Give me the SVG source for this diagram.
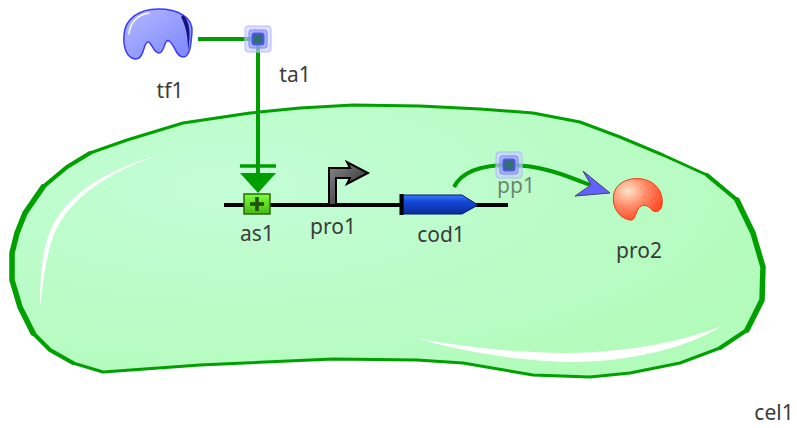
<svg xmlns="http://www.w3.org/2000/svg" width="797" height="428" viewBox="0 0 797 428">
  <style>
    .lbl { font-family: "Noto Sans", "Open Sans", "DejaVu Sans", sans-serif; font-size: 21px; fill: #3b3b3b; text-anchor: middle; }
    .link { fill: none; stroke: #009e00; stroke-width: 4; }
    .rim { fill: none; stroke: #00a000; stroke-linejoin: round; stroke-linecap: round; }
  </style>
  <defs>
    <radialGradient id="cellFill" cx="0.3" cy="0.3" r="0.8">
      <stop offset="0" stop-color="#c3fdd6"/>
      <stop offset="1" stop-color="#b3fbbb"/>
    </radialGradient>
    <linearGradient id="tfFill" x1="0" y1="0" x2="1" y2="1">
      <stop offset="0" stop-color="#b4baff"/>
      <stop offset="1" stop-color="#7b84ff"/>
    </linearGradient>
    <radialGradient id="proFill" cx="0.3" cy="0.3" r="0.75">
      <stop offset="0" stop-color="#ffe4cc"/>
      <stop offset="0.5" stop-color="#ff8a66"/>
      <stop offset="1" stop-color="#ff4a26"/>
    </radialGradient>
    <linearGradient id="asFill" x1="0" y1="0" x2="0" y2="1">
      <stop offset="0" stop-color="#7dff3a"/>
      <stop offset="1" stop-color="#45b814"/>
    </linearGradient>
    <linearGradient id="cdsFill" x1="0" y1="0" x2="0" y2="1">
      <stop offset="0" stop-color="#3a7bff"/>
      <stop offset="0.35" stop-color="#1448d8"/>
      <stop offset="1" stop-color="#0a2c9c"/>
    </linearGradient>
    <linearGradient id="promFill" x1="0" y1="0" x2="1" y2="1">
      <stop offset="0" stop-color="#8a8a8a"/>
      <stop offset="1" stop-color="#1e1e1e"/>
    </linearGradient>
    <!-- process node: stacked translucent rounded squares -->
    <symbol id="procNode" viewBox="-14 -14 28 28" overflow="visible">
      <rect x="-13" y="-13" width="26" height="26" rx="3" fill="#c4caff" fill-opacity="0.6" stroke="#b3baff" stroke-width="1"/>
      <rect x="-9" y="-9" width="18" height="18" rx="2.5" fill="#8e97ff" fill-opacity="0.6" stroke="#7d86ff" stroke-width="1"/>
      <rect x="-5.5" y="-5.5" width="11" height="11" rx="2" fill="#2f6e72" stroke="#5454ee" stroke-width="2"/>
    </symbol>
  </defs>

  <!-- compartment -->
  <g id="cel1">
    <path d="M250,113 L300,108 L353,105 L420,106 L480,109 L533,113 L580,122 L620,137 L663,155 L707,175 L737,200 L753,233 L763,267 L762,300 L747,330 L720,348 L680,363 L630,373 L590,377 L533,375 L463,363 L417,360 L333,359 L200,365 L103,372 L73,363 L50,350 L33,333 L20,307 L12,280 L12,253 L17,233 L25,213 L43,187 L67,167 L90,153 L127,140 L183,123 Z"
          fill="url(#cellFill)" stroke="#00a000" stroke-width="3" stroke-linejoin="round"/>
    <!-- heavier strokes along the curved ends -->
    <path class="rim" stroke-width="4" d="M90,153 L67,167 L43,187 L25,213 L17,233 L12,253 L12,280 L20,307 L33,333 L50,350 L73,363"/>
    <path class="rim" stroke-width="5.5" d="M43,187 L25,213 L17,233 L12,253 L12,280 L20,307 L33,333"/>
    <path class="rim" stroke-width="4" d="M707,175 L737,200 L753,233 L763,267 L762,300 L747,330 L720,348"/>
    <path class="rim" stroke-width="5.5" d="M737,200 L753,233 L763,267 L762,300 L747,330"/>
    <path d="M160,155 C110,168 60,195 47,240 C40,265 40,290 40,307 C43,285 45,262 52,240 C66,198 112,170 160,155 Z" fill="#ffffff"/>
    <path d="M415,338 C470,348 520,353 567,353 C630,352 680,342 722,326 C690,346 640,360 580,362 C520,362 465,352 415,338 Z" fill="#ffffff"/>
    <text class="lbl" x="774" y="420">cel1</text>
  </g>

  <!-- connectors -->
  <g id="connectors">
    <line class="link" x1="198" y1="39" x2="258" y2="39"/>
    <line class="link" x1="258" y1="39" x2="258" y2="176"/>
    <line x1="240" y1="166" x2="276" y2="166" stroke="#009e00" stroke-width="3.5"/>
    <polygon points="240,173 276,173 258,193" fill="#009e00"/>
    <path class="link" d="M454,187 C462,171 482,165 509,165 C540,165 565,175 590,185" stroke-width="4.5"/>
    <polygon points="610,193 583,171 591,185 575,196" fill="#6262ff" stroke="#444466" stroke-width="1"/>
  </g>

  <!-- DNA backbone -->
  <g id="dna">
    <line x1="224" y1="205" x2="508" y2="205" stroke="#000" stroke-width="4"/>
  </g>

  <g id="tf1">
    <path d="M135,59 C127,58 123,48 124,35 C125,18 140,9 158,9 C178,9 193,17 192,32 C191,45 190,57 183,57 C176,57 175,45 169,41 C164,38 165,53 159,53 C153,53 152,42 148,42 C143,42 145,59 135,59 Z"
          fill="url(#tfFill)" stroke="#3b3bff" stroke-width="1.5"/>
    <path d="M183,15 C190,21 191,34 188,50 C188,37 186,26 181,17 Z" fill="#14147a"/>
    <path d="M129,34 C130,22 138,15 149,13" fill="none" stroke="#ffffff" stroke-width="1.5" stroke-linecap="round"/>
    <text class="lbl" x="170" y="98">tf1</text>
  </g>

  <g id="ta1">
    <use href="#procNode" x="244" y="25" width="28" height="28"/>
    <text class="lbl" x="295" y="82">ta1</text>
  </g>

  <g id="as1">
    <rect x="244" y="194" width="26" height="20" fill="url(#asFill)" stroke="#2d6a0a" stroke-width="1.5"/>
    <rect x="250" y="202.2" width="14" height="3.6" fill="#1f5505"/>
    <rect x="255.2" y="197" width="3.6" height="14" fill="#1f5505"/>
    <text class="lbl" x="257" y="241">as1</text>
  </g>

  <g id="pro1">
    <polygon points="329,205 329,168 350,168 347,162 368,173 347,184 350,178 336,178 336,205"
             fill="url(#promFill)" stroke="#000" stroke-width="2" stroke-linejoin="miter"/>
    <text class="lbl" x="333" y="234">pro1</text>
  </g>

  <g id="cod1">
    <path d="M403,195 H462 L478,205 L462,214 H403 Z" fill="url(#cdsFill)" stroke="#001a5e" stroke-width="1"/>
    <rect x="399.5" y="194" width="4" height="21" fill="#000"/>
    <text class="lbl" x="441" y="242">cod1</text>
  </g>

  <g id="pp1">
    <use href="#procNode" x="495" y="151" width="28" height="28"/>
    <text class="lbl" x="516" y="193" fill-opacity="0.6" style="fill:#333333">pp1</text>
  </g>

  <g id="pro2">
    <path d="M630,220 C618,218 611,205 614,193 C617,182 630,177 642,179 C655,181 664,192 662,205 C661,212 655,213 652,210 C648,205 642,203 638,209 C635,215 635,221 630,220 Z"
          fill="url(#proFill)" stroke="#ee3a16" stroke-width="1"/>
    <text class="lbl" x="639" y="258">pro2</text>
  </g>
</svg>
